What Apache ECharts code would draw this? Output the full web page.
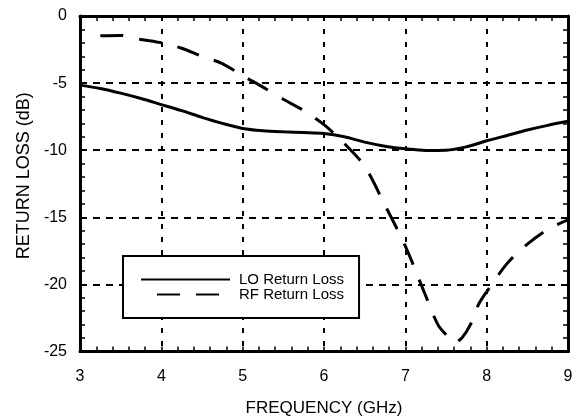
<!DOCTYPE html>
<html>
<head>
<meta charset="utf-8">
<script src="https://cdn.jsdelivr.net/npm/echarts@6/dist/echarts.min.js"></script>
<style>html,body{margin:0;padding:0;background:#fff}#c{width:578px;height:417px}</style>
</head>
<body>
<div id="c"></div>
<script>
var loFreq = [3.0,3.25,3.5,3.75,4.0,4.25,4.5,4.75,5.0,5.25,5.5,5.75,6.0,6.25,6.5,6.75,7.0,7.25,7.5,7.75,8.0,8.25,8.5,8.75,9.0];
var loValues = [-5.15,-5.4,-5.75,-6.15,-6.6,-7.05,-7.55,-8.0,-8.38,-8.55,-8.63,-8.68,-8.75,-9.0,-9.4,-9.7,-9.9,-10.02,-10.0,-9.75,-9.3,-8.9,-8.5,-8.15,-7.85];
var rfFreq = [3.25,3.5,3.75,4.0,4.25,4.5,4.75,5.0,5.25,5.5,5.75,6.0,6.25,6.5,6.75,7.0,7.25,7.4,7.5,7.6,7.7,7.8,7.9,8.0,8.25,8.5,8.75,9.0];
var rfValues = [-1.48,-1.45,-1.75,-2.0,-2.4,-3.0,-3.55,-4.45,-5.3,-6.2,-7.05,-8.1,-9.5,-11.2,-14.1,-17.15,-20.85,-23.0,-23.75,-24.35,-23.95,-23.0,-21.5,-20.55,-18.45,-17.0,-15.9,-15.2];
var xTicks = [3,4,5,6,7,8,9];
var yTicks = [0,-5,-10,-15,-20,-25];
var seriesNames = ['LO Return Loss','RF Return Loss'];

function zip(a,b){return a.map(function(v,i){return [v,b[i]];});}
var FONT = '"Liberation Sans", Arial, Helvetica, sans-serif';
var tickCommon = {show:true, inside:true, length:5, lineStyle:{color:'#000', width:1.5}};
var minorCommon = {show:true, splitNumber:5, length:5, lineStyle:{color:'#000', width:1.5}};
var lineCommon = {show:true, onZero:false, lineStyle:{color:'#000', width:3}};

var chart = echarts.init(document.getElementById('c'), null, {renderer:'canvas'});
chart.setOption({
  animation:false,
  backgroundColor:'#fff',
  textStyle:{fontFamily:FONT},
  grid:{left:80, right:10, top:16, bottom:65.5, containLabel:false, outerBoundsMode:'none'},
  xAxis:[{
    type:'value', position:'bottom', min:xTicks[0], max:xTicks[xTicks.length-1], interval:1,
    axisLine:lineCommon, axisTick:tickCommon, minorTick:minorCommon,
    splitLine:{show:true, lineStyle:{color:'#000', width:2, type:[5,8]}},
    axisLabel:{color:'#000', fontSize:16, margin:17, fontFamily:FONT},
    name:'FREQUENCY (GHz)', nameLocation:'middle', nameGap:48,
    nameTextStyle:{color:'#000', fontSize:17, fontFamily:FONT}
  },{
    type:'value', position:'top', min:xTicks[0], max:xTicks[xTicks.length-1], interval:1,
    axisLine:lineCommon, axisTick:tickCommon, minorTick:minorCommon,
    splitLine:{show:false}, axisLabel:{show:false}
  }],
  yAxis:[{
    type:'value', position:'left', min:yTicks[yTicks.length-1], max:yTicks[0], interval:5,
    axisLine:lineCommon, axisTick:tickCommon, minorTick:minorCommon,
    splitLine:{show:true, lineStyle:{color:'#000', width:2, type:[7,6]}},
    axisLabel:{color:'#000', fontSize:16, margin:13, fontFamily:FONT},
    name:'RETURN LOSS (dB)', nameLocation:'middle', nameGap:44,
    nameTextStyle:{color:'#000', fontSize:18, fontFamily:FONT, padding:[0,0,0,16]}
  },{
    type:'value', position:'right', min:yTicks[yTicks.length-1], max:yTicks[0], interval:5,
    axisLine:lineCommon, axisTick:tickCommon, minorTick:minorCommon,
    splitLine:{show:false}, axisLabel:{show:false}
  }],
  legend:{
    orient:'vertical', left:123, top:256,
    backgroundColor:'#fff', borderColor:'#000', borderWidth:2,
    padding:[16,15,16,17],
    itemWidth:89, itemHeight:13.6, itemGap:0,
    itemStyle:{color:'rgba(0,0,0,0)', borderWidth:0},
    textStyle:{color:'#000', fontSize:15, lineHeight:13.6, fontFamily:FONT, padding:[0,0,0,4]},
    data:[{name:seriesNames[0]},{name:seriesNames[1], lineStyle:{dashOffset:23}}]
  },
  series:[{
    name:seriesNames[0], type:'line', xAxisIndex:0, yAxisIndex:0,
    data:zip(loFreq, loValues), symbol:'none', smooth:0.3,
    lineStyle:{color:'#000', width:3}, itemStyle:{color:'#000'}, z:5
  },{
    name:seriesNames[1], type:'line', xAxisIndex:0, yAxisIndex:0,
    data:zip(rfFreq, rfValues), symbol:'none', smooth:0.3,
    lineStyle:{color:'#000', width:3, type:[23,16]}, itemStyle:{color:'#000'}, z:5
  }]
});
</script>
</body>
</html>
